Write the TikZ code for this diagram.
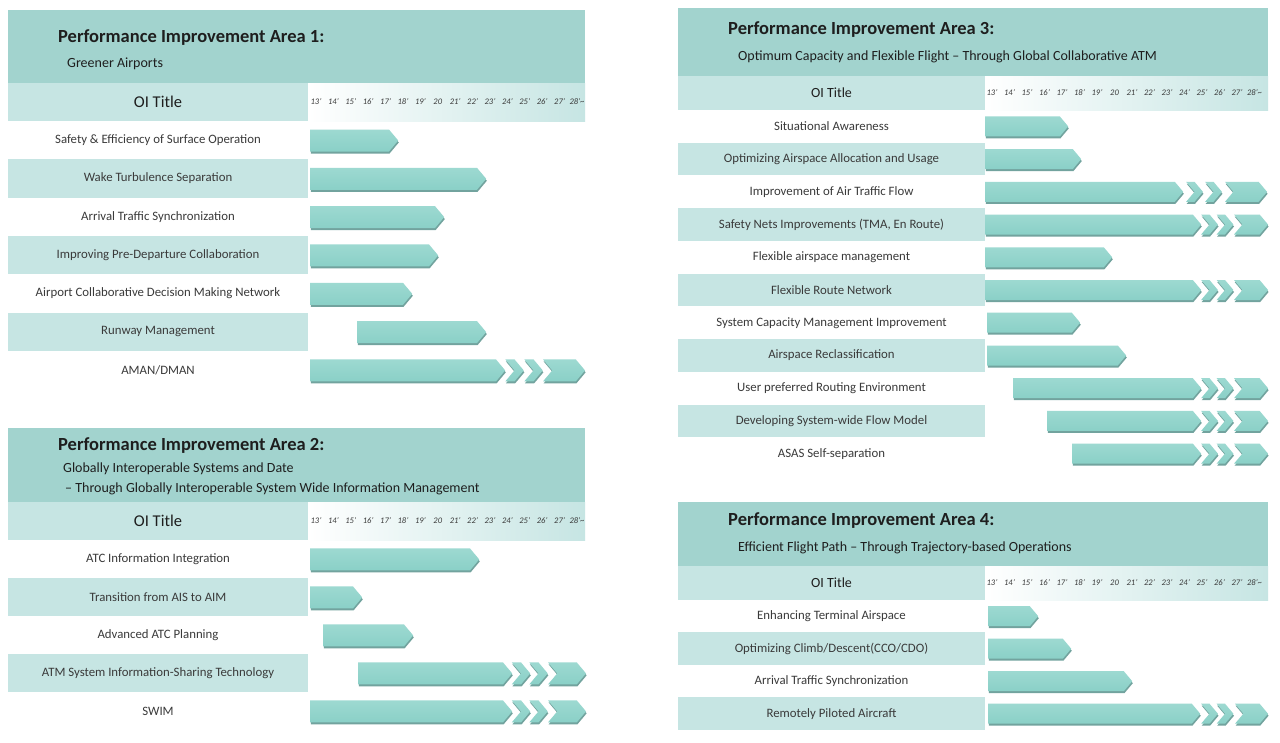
\documentclass[tikz,border=0pt]{standalone}
\usepackage{fontspec}
\setmainfont{Carlito}
\usepackage{xcolor}
\usepackage{tikz}
\usetikzlibrary{shapes.symbols,shadows}
\definecolor{hdrteal}{HTML}{A2D3CE}
\definecolor{cellteal}{HTML}{C6E5E3}
\definecolor{barteal}{HTML}{8AD0C7}
\definecolor{barlight}{HTML}{9DD9D1}
\definecolor{barshade}{HTML}{5A948E}
\definecolor{labelgray}{HTML}{3A3A3A}
\definecolor{titleblack}{HTML}{1E1E1E}
\tikzset{
  header/.style={fill=hdrteal, inner sep=0},
  areatitle/.style={anchor=west, inner sep=0, text=titleblack,
                    font=\fontsize{18.5}{20}\selectfont\bfseries},
  areasub/.style={anchor=west, inner sep=0, text=titleblack,
                  font=\fontsize{14}{15}\selectfont},
  oicell/.style={fill=cellteal, inner sep=0, text=titleblack},
  yearcell/.style={left color=white, right color=cellteal, inner sep=0},
  yearlabel/.style={inner sep=0, text=labelgray,
                    font=\fontsize{8.5}{9}\selectfont\itshape},
  rowwhite/.style={fill=white, inner sep=0, text=labelgray},
  rowteal/.style={rowwhite, fill=cellteal},
  oibar/.style={signal, signal to=east, signal pointer angle=100, inner sep=0,
                top color=barlight, bottom color=barteal, draw=none,
                drop shadow={shadow xshift=0.6pt, shadow yshift=-2pt,
                             fill=barshade, opacity=0.85}},
  oichev/.style={oibar, signal from=west}
}
% bar: name, x start, x end, y centre, height
\newcommand{\oibar}[5]{\node[oibar, anchor=west, minimum width={#3-#2}, minimum height=#5] (#1) at (#2,#4) {};}
\newcommand{\oichev}[5]{\node[oichev, minimum width={#3-#2}, minimum height=#5] (#1) at ({(#2+#3)/2},#4) {};}
% year axis: prefix, first centre, step, y
\newcommand{\yearaxis}[4]{%
  \foreach \yr [count=\i from 0] in {13',14',15',16',17',18',19',20,21',22',23',24',25',26',27',28'\textasciitilde}
    \node[yearlabel] (#1\i) at ({#2+#3*\i},#4) {\yr};}

\begin{document}
\begin{tikzpicture}[x=1pt,y=-1pt]
  \useasboundingbox[fill=white] (0,0) rectangle (1280,742);

  % ---------- Area 1 ----------
  \node[header, minimum width=577, minimum height=73] (hdr1) at (296.5,46.5) {};
  \node[areatitle] (ttl1) at (58,38) {Performance Improvement Area 1:};
  \node[areasub] (sub1) at (67,64) {Greener Airports};
  \node[oicell, minimum width=300, minimum height=38, font=\fontsize{16.5}{18}\selectfont] (oi1) at (158,102) {OI Title};
  \node[yearcell, minimum width=277, minimum height=38] (yrs1) at (446.5,102) {};
  \yearaxis{ya}{316}{17.4}{102}

  \tikzset{every node/.append style={minimum width=300, minimum height=38.3, font=\fontsize{12.8}{14}\selectfont}}
  \node[rowwhite] (p1r1) at (158,140.1) {Safety \& Efficiency of  Surface Operation};
  \node[rowteal]  (p1r2) at (158,178.4) {Wake Turbulence Separation};
  \node[rowwhite] (p1r3) at (158,216.7) {Arrival Traffic Synchronization};
  \node[rowteal]  (p1r4) at (158,255.0) {Improving Pre-Departure Collaboration};
  \node[rowwhite] (p1r5) at (158,293.4) {Airport Collaborative Decision Making Network};
  \node[rowteal]  (p1r6) at (158,331.7) {Runway Management};
  \node[rowwhite] (p1r7) at (158,370.0) {AMAN/DMAN};
  \tikzset{every node/.style={}}

  \oibar{p1b1}{310}{398}{140.5}{22}
  \oibar{p1b2}{310}{486}{178.8}{22}
  \oibar{p1b3}{310}{444}{217.1}{22}
  \oibar{p1b4}{310}{438}{255.4}{22}
  \oibar{p1b5}{310}{412}{293.8}{22}
  \oibar{p1b6}{357}{486}{332.1}{22}
  \oibar{p1b7}{310}{505}{370.4}{22}
  \oichev{p1c7a}{507}{522}{370.4}{22}
  \oichev{p1c7b}{526}{541}{370.4}{22}
  \oichev{p1c7c}{543}{585}{370.4}{22}

  % ---------- Area 2 ----------
  \node[header, minimum width=577, minimum height=74] (hdr2) at (296.5,465) {};
  \node[areatitle] (ttl2) at (58,446) {Performance Improvement Area 2:};
  \node[areasub] (sub2a) at (63,469) {Globally Interoperable Systems and Date};
  \node[areasub] (sub2b) at (65,489) {– Through Globally Interoperable System Wide Information Management};
  \node[oicell, minimum width=300, minimum height=38, font=\fontsize{16.5}{18}\selectfont] (oi2) at (158,521) {OI Title};
  \node[yearcell, minimum width=277, minimum height=38] (yrs2) at (446.5,521) {};
  \yearaxis{yb}{316}{17.4}{521}

  \tikzset{every node/.append style={minimum width=300, minimum height=38, font=\fontsize{12.8}{14}\selectfont}}
  \node[rowwhite] (p2r1) at (158,559) {ATC Information Integration};
  \node[rowteal]  (p2r2) at (158,597) {Transition from AIS to AIM};
  \node[rowwhite] (p2r3) at (158,635) {Advanced ATC Planning};
  \node[rowteal]  (p2r4) at (158,673) {ATM System Information-Sharing Technology};
  \node[rowwhite] (p2r5) at (158,711) {SWIM};
  \tikzset{every node/.style={}}

  \oibar{p2b1}{310}{479}{559.4}{22}
  \oibar{p2b2}{310}{362}{597.4}{22}
  \oibar{p2b3}{323}{413}{635.4}{22}
  \oibar{p2b4}{358}{512}{673.4}{22}
  \oichev{p2c4a}{514}{528}{673.4}{22}
  \oichev{p2c4b}{531}{546}{673.4}{22}
  \oichev{p2c4c}{548}{586}{673.4}{22}
  \oibar{p2b5}{310}{512}{711.4}{22}
  \oichev{p2c5a}{514}{528}{711.4}{22}
  \oichev{p2c5b}{531}{546}{711.4}{22}
  \oichev{p2c5c}{548}{586}{711.4}{22}

  % ---------- Area 3 ----------
  \node[header, minimum width=590, minimum height=68] (hdr3) at (973,42) {};
  \node[areatitle] (ttl3) at (728,30) {Performance Improvement Area 3:};
  \node[areasub] (sub3) at (738,57) {Optimum  Capacity and Flexible Flight – Through Global Collaborative ATM};
  \node[oicell, minimum width=307, minimum height=34, font=\fontsize{14}{15}\selectfont] (oi3) at (831.5,93) {OI Title};
  \node[yearcell, minimum width=283, minimum height=34] (yrs3) at (1126.5,93) {};
  \yearaxis{yc}{992}{17.5}{93}

  \tikzset{every node/.append style={minimum width=307, minimum height=32.73, font=\fontsize{12.8}{14}\selectfont}}
  \node[rowwhite] (p3r1)  at (831.5,126.4) {Situational Awareness};
  \node[rowteal]  (p3r2)  at (831.5,159.1) {Optimizing Airspace Allocation and Usage};
  \node[rowwhite] (p3r3)  at (831.5,191.8) {Improvement of Air Traffic Flow};
  \node[rowteal]  (p3r4)  at (831.5,224.5) {Safety Nets Improvements (TMA, En Route)};
  \node[rowwhite] (p3r5)  at (831.5,257.3) {Flexible airspace management};
  \node[rowteal]  (p3r6)  at (831.5,290.0) {Flexible Route Network};
  \node[rowwhite] (p3r7)  at (831.5,322.7) {System Capacity Management Improvement};
  \node[rowteal]  (p3r8)  at (831.5,355.5) {Airspace Reclassification};
  \node[rowwhite] (p3r9)  at (831.5,388.2) {User preferred Routing Environment};
  \node[rowteal]  (p3r10) at (831.5,420.9) {Developing System-wide Flow Model};
  \node[rowwhite] (p3r11) at (831.5,453.6) {ASAS Self-separation};
  \tikzset{every node/.style={}}

  \oibar{p3b1}{985}{1068}{126.4}{20}
  \oibar{p3b2}{985}{1081}{159.1}{20}
  \oibar{p3b3}{985}{1183}{191.8}{20}
  \oichev{p3c3a}{1187}{1202}{191.8}{20}
  \oichev{p3c3b}{1206}{1221}{191.8}{20}
  \oichev{p3c3c}{1225}{1267}{191.8}{20}
  \oibar{p3b4}{985}{1201}{224.5}{20}
  \oichev{p3c4a}{1203}{1216}{224.5}{20}
  \oichev{p3c4b}{1218}{1232}{224.5}{20}
  \oichev{p3c4c}{1234}{1268}{224.5}{20}
  \oibar{p3b5}{985}{1112}{257.3}{20}
  \oibar{p3b6}{985}{1201}{290.0}{20}
  \oichev{p3c6a}{1203}{1216}{290.0}{20}
  \oichev{p3c6b}{1218}{1232}{290.0}{20}
  \oichev{p3c6c}{1234}{1268}{290.0}{20}
  \oibar{p3b7}{987}{1080}{322.7}{20}
  \oibar{p3b8}{987}{1126}{355.5}{20}
  \oibar{p3b9}{1013}{1201}{388.2}{20}
  \oichev{p3c9a}{1203}{1216}{388.2}{20}
  \oichev{p3c9b}{1218}{1232}{388.2}{20}
  \oichev{p3c9c}{1234}{1268}{388.2}{20}
  \oibar{p3b10}{1047}{1201}{420.9}{20}
  \oichev{p3c10a}{1203}{1216}{420.9}{20}
  \oichev{p3c10b}{1218}{1232}{420.9}{20}
  \oichev{p3c10c}{1234}{1268}{420.9}{20}
  \oibar{p3b11}{1072}{1201}{453.6}{20}
  \oichev{p3c11a}{1203}{1216}{453.6}{20}
  \oichev{p3c11b}{1218}{1232}{453.6}{20}
  \oichev{p3c11c}{1234}{1268}{453.6}{20}

  % ---------- Area 4 ----------
  \node[header, minimum width=590, minimum height=64] (hdr4) at (973,534) {};
  \node[areatitle] (ttl4) at (728,521) {Performance Improvement Area 4:};
  \node[areasub] (sub4) at (738,548) {Efficient Flight Path – Through Trajectory-based Operations};
  \node[oicell, minimum width=307, minimum height=34, font=\fontsize{14}{15}\selectfont] (oi4) at (831.5,583) {OI Title};
  \node[yearcell, minimum width=283, minimum height=34] (yrs4) at (1126.5,583) {};
  \yearaxis{yd}{992}{17.5}{583}

  \tikzset{every node/.append style={minimum width=307, minimum height=32.5, font=\fontsize{12.8}{14}\selectfont}}
  \node[rowwhite] (p4r1) at (831.5,616.2) {Enhancing Terminal Airspace};
  \node[rowteal]  (p4r2) at (831.5,648.7) {Optimizing Climb/Descent(CCO/CDO)};
  \node[rowwhite] (p4r3) at (831.5,681.2) {Arrival Traffic Synchronization};
  \node[rowteal]  (p4r4) at (831.5,713.7) {Remotely Piloted Aircraft};
  \tikzset{every node/.style={}}

  \oibar{p4b1}{988}{1038}{616.2}{20}
  \oibar{p4b2}{988}{1071}{648.7}{20}
  \oibar{p4b3}{988}{1132}{681.2}{20}
  \oibar{p4b4}{988}{1200}{713.7}{20}
  \oichev{p4c4a}{1203}{1216}{713.7}{20}
  \oichev{p4c4b}{1218}{1232}{713.7}{20}
  \oichev{p4c4c}{1235}{1268}{713.7}{20}
\end{tikzpicture}
\end{document}
